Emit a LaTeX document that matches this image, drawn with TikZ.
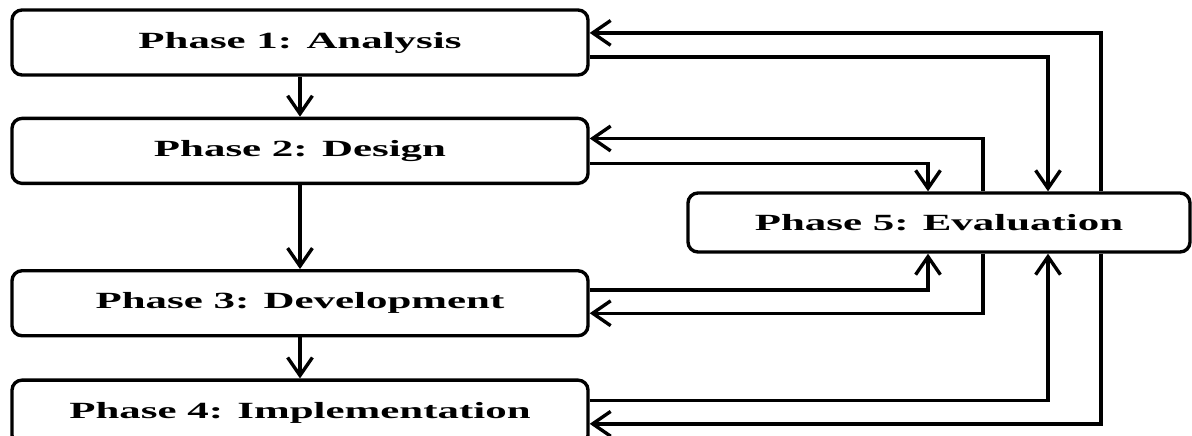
\documentclass[tikz,border=0pt]{standalone}
\usepackage{fontspec}
\setmainfont{Liberation Serif}
\usepackage{graphicx}
\usetikzlibrary{arrows.meta,positioning}

% phase labels are printed wide in the original
\newcommand{\widetxt}[1]{\scalebox{1.85}[1]{#1}}

\tikzset{
  phase/.style={draw, rectangle, rounded corners=0.25cm, line width=2.4pt,
                minimum width=14.4cm, minimum height=1.625cm, inner sep=0pt,
                font=\fontsize{16.5}{19}\selectfont\bfseries},
  arr/.style={-{Straight Barb[length=0.45cm, width=0.62cm, line width=2.4pt]},
              line width=2.4pt}
}

\begin{document}
\begin{tikzpicture}
    \useasboundingbox (0,0) rectangle (29.8,-10.875);

    % Phases 1-4 down the left side
    \node[phase] (p1) at (7.5,-1.0625) {\widetxt{Phase 1: Analysis}};
    \node[phase, below=1cm of p1] (p2) {\widetxt{Phase 2: Design}};
    \node[phase, below=2.1cm of p2] (p3) {\widetxt{Phase 3: Development}};
    \node[phase, below=1.025cm of p3] (p4) {\widetxt{Phase 4: Implementation}};

    % Evaluation box on the right
    \node[phase, minimum width=12.55cm, minimum height=1.475cm] (p5)
          at (23.475,-5.5625) {\widetxt{Phase 5: Evaluation}};

    % Main flow
    \draw[arr] (p1) -- (p2);
    \draw[arr] (p2) -- (p3);
    \draw[arr] (p3) -- (p4);

    % Lanes for the loops to and from evaluation
    \coordinate (laneA) at (27.525,0);
    \coordinate (laneB) at (26.2,0);
    \coordinate (laneC) at (24.575,0);
    \coordinate (laneD) at (23.2,0);

    % Loops above Phase 5
    \draw[arr] (p5.north -| laneA) |- ([yshift=0.24cm]p1.east);
    \draw[arr] ([yshift=-0.36cm]p1.east) -| (p5.north -| laneB);
    \draw[arr] (p5.north -| laneC) |- ([yshift=0.31cm]p2.east);
    \draw[arr] ([yshift=-0.31cm]p2.east) -| (p5.north -| laneD);

    % Loops below Phase 5
    \draw[arr] ([yshift=0.33cm]p3.east) -| (p5.south -| laneD);
    \draw[arr] (p5.south -| laneC) |- ([yshift=-0.25cm]p3.east);
    \draw[arr] ([yshift=0.3cm]p4.east) -| (p5.south -| laneB);
    \draw[arr] (p5.south -| laneA) |- ([yshift=-0.28cm]p4.east);
\end{tikzpicture}
\end{document}
